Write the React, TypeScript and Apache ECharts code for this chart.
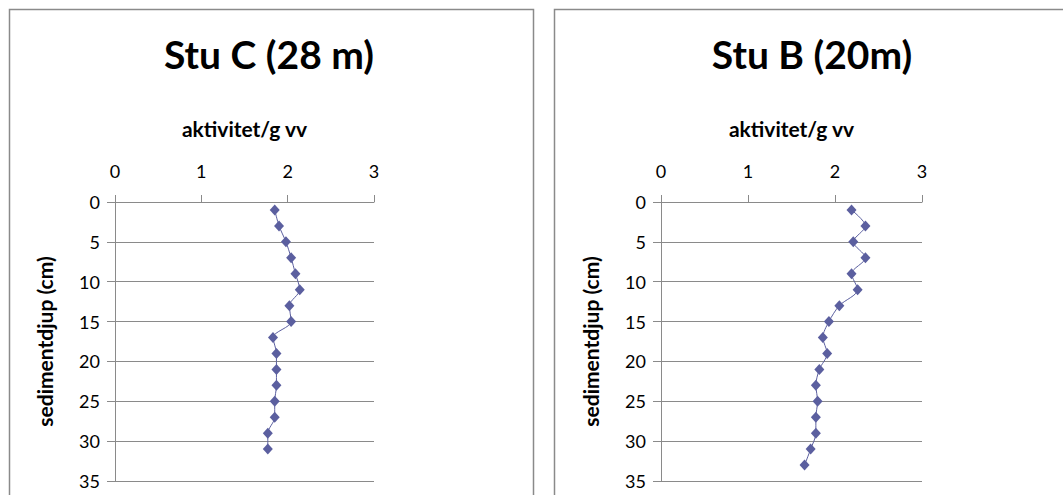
import React, { useEffect, useRef } from "react";
import * as echarts from "echarts";

const titleC = "Stu C (28 m)";
const titleB = "Stu B (20m)";
const xAxisName = "aktivitet/g vv";
const yAxisName = "sedimentdjup (cm)";

const depthC = [1, 3, 5, 7, 9, 11, 13, 15, 17, 19, 21, 23, 25, 27, 29, 31];
const activityC = [1.85, 1.9, 1.98, 2.04, 2.09, 2.14, 2.02, 2.04, 1.83, 1.87, 1.87, 1.87, 1.85, 1.85, 1.77, 1.77];

const depthB = [1, 3, 5, 7, 9, 11, 13, 15, 17, 19, 21, 23, 25, 27, 29, 31, 33];
const activityB = [2.19, 2.35, 2.21, 2.35, 2.19, 2.26, 2.05, 1.93, 1.86, 1.91, 1.82, 1.78, 1.8, 1.78, 1.78, 1.72, 1.65];

const xMin = 0, xMax = 3, xStep = 1;
const yMin = 0, yMax = 35, yStep = 5;

const FONT = "Lato";
const GRAY = "#8a8a8a";
const MARK = "#5b5f9f";

function pairs(xs: number[], ys: number[]) {
  return xs.map((x, i) => [x, ys[i]]);
}

export default function App() {
  const ref = useRef<HTMLDivElement>(null);
  useEffect(() => {
    const chart = echarts.init(ref.current!, null, { renderer: "svg" });
    const grids = [
      { left: 115, top: 202, width: 259, height: 279 },
      { left: 661, top: 202, width: 261, height: 279 },
    ];
    const xAxes = grids.map((_, i) => ({
      type: "value",
      gridIndex: i,
      position: "top",
      min: xMin,
      max: xMax,
      interval: xStep,
      name: xAxisName,
      nameLocation: "middle",
      nameGap: 63,
      nameTextStyle: { fontFamily: FONT, fontWeight: "bold", fontSize: 21, color: "#000" },
      axisLine: { show: true, lineStyle: { color: GRAY, width: 1 } },
      axisTick: { show: true, inside: false, length: 7, lineStyle: { color: GRAY } },
      axisLabel: { fontFamily: FONT, fontSize: 18, color: "#000", margin: 22 },
      splitLine: { show: false },
    }));
    const yAxes = grids.map((_, i) => ({
      type: "value",
      gridIndex: i,
      inverse: true,
      min: yMin,
      max: yMax,
      interval: yStep,
      name: yAxisName,
      nameLocation: "middle",
      nameGap: 60,
      nameTextStyle: { fontFamily: FONT, fontWeight: "bold", fontSize: 21, color: "#000" },
      axisLine: { show: true, lineStyle: { color: GRAY, width: 1 } },
      axisTick: { show: true, inside: false, length: 8, lineStyle: { color: GRAY } },
      axisLabel: { fontFamily: FONT, fontSize: 18, color: "#000", margin: 15 },
      splitLine: { show: true, lineStyle: { color: GRAY, width: 1 } },
    }));
    const series = [
      { data: pairs(activityC, depthC), idx: 0 },
      { data: pairs(activityB, depthB), idx: 1 },
    ].map((s) => ({
      type: "line",
      xAxisIndex: s.idx,
      yAxisIndex: s.idx,
      data: s.data,
      smooth: 0.3,
      symbol: "diamond",
      symbolSize: [10, 11],
      itemStyle: { color: MARK },
      lineStyle: { color: MARK, width: 1 },
    }));
    chart.setOption({
      animation: false,
      backgroundColor: "#fff",
      grid: grids,
      xAxis: xAxes,
      yAxis: yAxes,
      series,
      graphic: [
        { type: "rect", shape: { x: 9.5, y: 9.5, width: 524, height: 500 }, style: { fill: "none", stroke: GRAY, lineWidth: 1.5 }, silent: true },
        { type: "rect", shape: { x: 554.5, y: 9.5, width: 530, height: 500 }, style: { fill: "none", stroke: GRAY, lineWidth: 1.5 }, silent: true },
        { type: "text", x: 269, y: 54, style: { text: titleC, font: `bold 39px ${FONT}`, fill: "#000", align: "center", verticalAlign: "middle" } },
        { type: "text", x: 812, y: 54, style: { text: titleB, font: `bold 39px ${FONT}`, fill: "#000", align: "center", verticalAlign: "middle" } },
      ],
    });
    return () => chart.dispose();
  }, []);
  return <div ref={ref} style={{ position: "fixed", left: 0, top: 0, width: 1063, height: 495, background: "#fff" }} />;
}
